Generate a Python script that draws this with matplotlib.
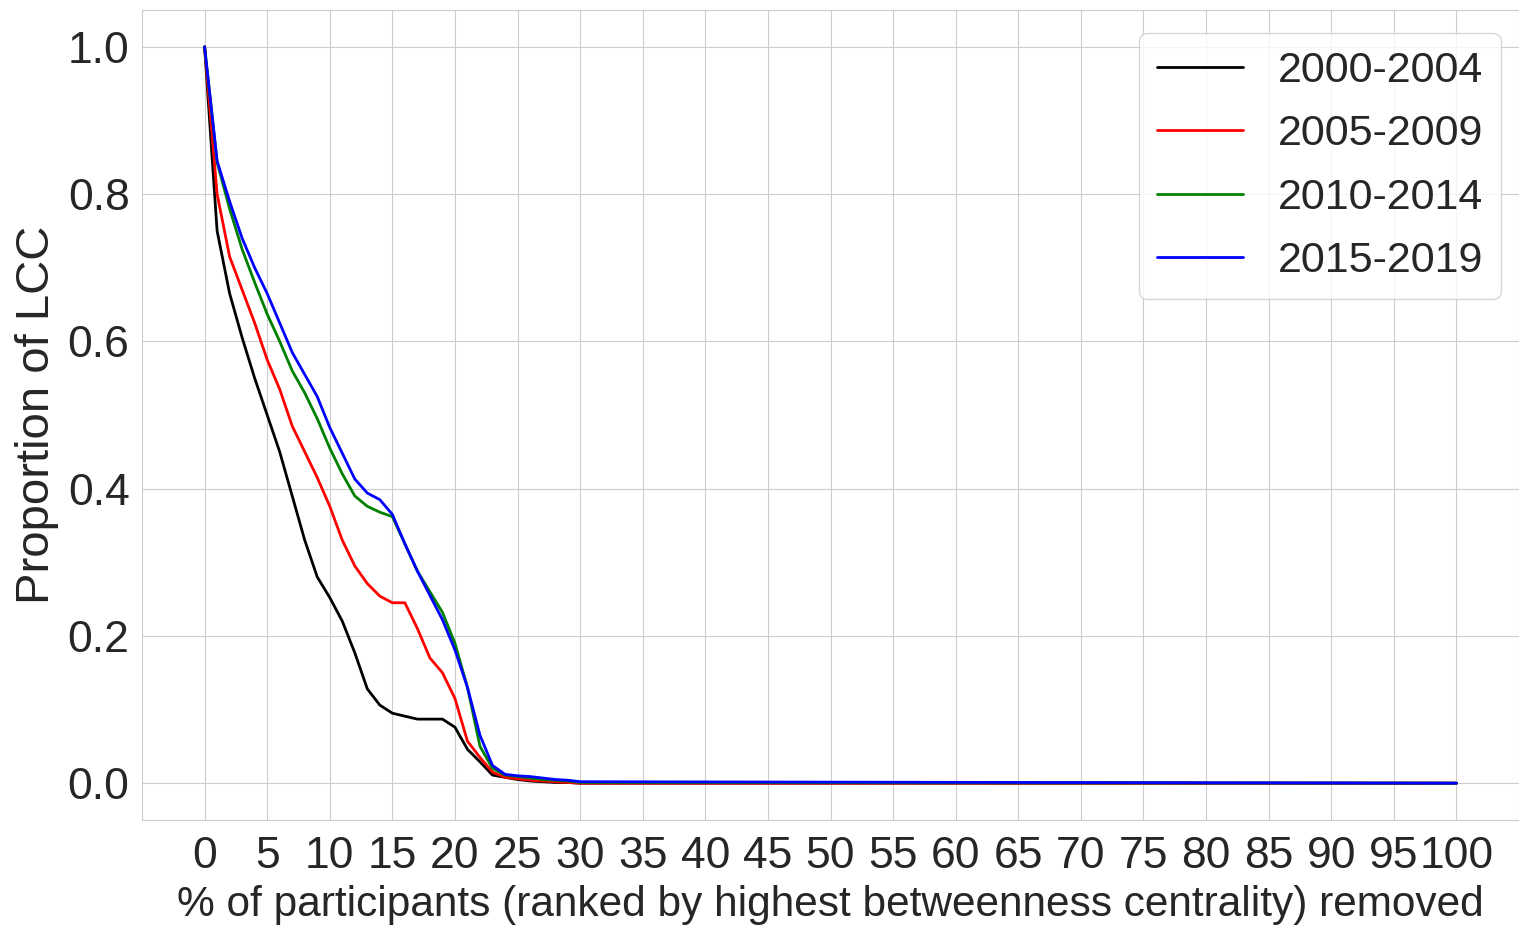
import matplotlib
matplotlib.use("Agg")
import matplotlib.pyplot as plt
import seaborn as sns

pct_removed = list(range(0, 31)) + [100]

lcc_2000_2004 = [1.0, 0.75, 0.665, 0.605, 0.55, 0.50, 0.45, 0.39, 0.33, 0.28,
                 0.252, 0.22, 0.177, 0.128, 0.106, 0.095, 0.091, 0.087, 0.087, 0.087,
                 0.076, 0.046, 0.029, 0.011, 0.008, 0.005, 0.003, 0.002, 0.001, 0.001,
                 0.0, 0.0]
lcc_2005_2009 = [1.0, 0.80, 0.715, 0.67, 0.625, 0.575, 0.535, 0.485, 0.45, 0.415,
                 0.376, 0.33, 0.295, 0.271, 0.254, 0.245, 0.245, 0.21, 0.17, 0.15,
                 0.115, 0.057, 0.035, 0.015, 0.008, 0.006, 0.004, 0.003, 0.002, 0.001,
                 0.0, 0.0]
lcc_2010_2014 = [1.0, 0.843, 0.78, 0.725, 0.68, 0.637, 0.60, 0.56, 0.53, 0.495,
                 0.455, 0.42, 0.39, 0.376, 0.368, 0.362, 0.325, 0.288, 0.26, 0.232,
                 0.19, 0.13, 0.05, 0.02, 0.011, 0.009, 0.007, 0.005, 0.004, 0.003,
                 0.001, 0.0]
lcc_2015_2019 = [1.0, 0.845, 0.79, 0.74, 0.70, 0.665, 0.625, 0.585, 0.555, 0.525,
                 0.483, 0.448, 0.413, 0.394, 0.385, 0.365, 0.325, 0.288, 0.255, 0.222,
                 0.181, 0.13, 0.065, 0.024, 0.012, 0.010, 0.009, 0.007, 0.005, 0.004,
                 0.002, 0.0]

series_labels = ["2000-2004", "2005-2009", "2010-2014", "2015-2019"]
series_colors = ["black", "red", "green", "blue"]
x_ticks = list(range(0, 101, 5))
y_ticks = [0.0, 0.2, 0.4, 0.6, 0.8, 1.0]

sns.set_style("whitegrid")
plt.rcParams["font.family"] = ["Liberation Sans", "DejaVu Sans"]

fig = plt.figure(figsize=(15.19, 9.27), dpi=100)
ax = fig.add_axes([142 / 1519, 1 - 820 / 927, 1 - 142 / 1519, (820 - 10) / 927])

for vals, lab, col in zip([lcc_2000_2004, lcc_2005_2009, lcc_2010_2014, lcc_2015_2019],
                          series_labels, series_colors):
    ax.plot(pct_removed, vals, color=col, lw=2, label=lab)

ax.set_xlim(-5, 105)
ax.set_ylim(-0.05, 1.05)
ax.set_xticks(x_ticks)
ax.set_yticks(y_ticks)
ax.set_yticklabels([f"{v:.1f}" for v in y_ticks])
ax.tick_params(labelsize=32, colors=".15")
ax.tick_params(axis="y", pad=5.5)
ax.tick_params(axis="x", pad=8)
ax.set_xlabel("% of participants (ranked by highest betweenness centrality) removed",
              fontsize=30.5, color=".15", labelpad=6)
ax.set_ylabel("Proportion of LCC", fontsize=34, color=".15", labelpad=6.5)
ax.legend(loc="upper right", bbox_to_anchor=(0.9869, 0.9716), borderaxespad=0,
          fontsize=31, frameon=True, labelspacing=0.54, borderpad=0.42)

fig.savefig("out.png", dpi=100)
